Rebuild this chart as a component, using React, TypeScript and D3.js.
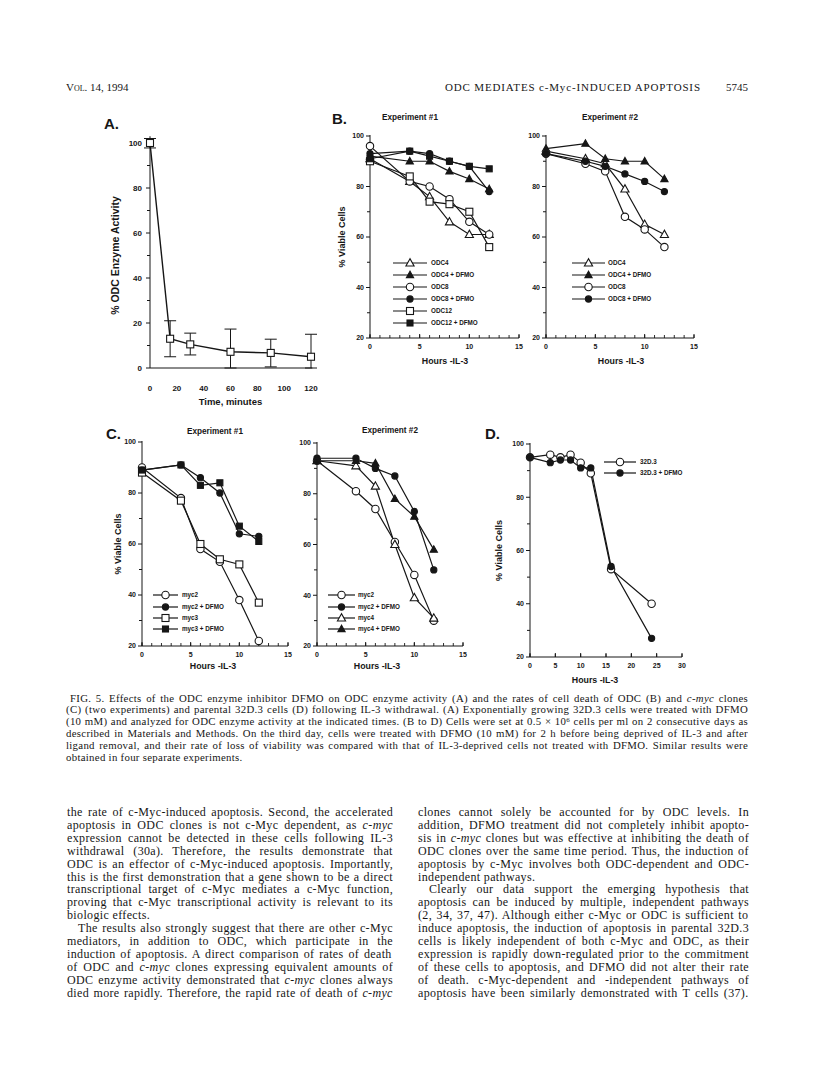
import React from 'react';
import * as d3 from 'd3';

// ---------- DATA ----------
const aTime = [0, 15, 30, 60, 90, 120];
const aActivity = [100, 13, 10.5, 7.2, 6.7, 5];
const aErrLow = [97.8, 5, 5.8, 0, 0.5, 0];
const aErrHigh = [102, 21, 15.5, 17.3, 12.8, 15];
const aXTicks = [0, 20, 40, 60, 80, 100, 120];
const aYTicks = [0, 20, 40, 60, 80, 100];

const hoursBC = [0, 4, 6, 8, 10, 12];
const b1ODC4 = [91, 82, 76, 66, 61, 61];
const b1ODC4D = [92, 90, 90, 86, 83, 79];
const b1ODC8 = [96, 82, 80, 75, 66, 61];
const b1ODC8D = [93, 94, 93, 90, 88, 78];
const b1ODC12 = [90, 84, 74, 73, 70, 56];
const b1ODC12D = [91, 94, 92, 90, 88, 87];

const b2ODC4 = [94, 91, 89, 79, 65, 61];
const b2ODC4D = [95, 97, 91, 90, 90, 83];
const b2ODC8 = [93, 89, 86, 68, 63, 56];
const b2ODC8D = [93, 90, 88, 85, 82, 78];

const c1myc2 = [90, 78, 58, 53, 38, 22];
const c1myc2D = [89, 91, 86, 80, 64, 63];
const c1myc3 = [88, 77, 60, 54, 52, 37];
const c1myc3D = [89, 91, 83, 84, 67, 61];

const c2myc2 = [93, 81, 74, 61, 48, 30];
const c2myc2D = [94, 94, 90, 87, 73, 50];
const c2myc4 = [93, 91, 83, 60, 39, 31];
const c2myc4D = [93, 93, 92, 78, 71, 58];

const hoursD = [0, 4, 6, 8, 10, 12, 16, 24];
const d32D3 = [95, 96, 95, 96, 93, 89, 53, 40];
const d32D3D = [95, 93, 94, 94, 91, 91, 54, 27];

const viabTicks = [20, 40, 60, 80, 100];
const viabMinor = [30, 50, 70, 90];
const hourTicks = [0, 5, 10, 15];
const hourTicksD = [0, 5, 10, 15, 20, 25, 30];

const captionLines = [
  'FIG. 5. Effects of the ODC enzyme inhibitor DFMO on ODC enzyme activity (A) and the rates of cell death of ODC (B) and *c-myc* clones',
  '(C) (two experiments) and parental 32D.3 cells (D) following IL-3 withdrawal. (A) Exponentially growing 32D.3 cells were treated with DFMO',
  '(10 mM) and analyzed for ODC enzyme activity at the indicated times. (B to D) Cells were set at 0.5 \u00d7 10^6 cells per ml on 2 consecutive days as',
  'described in Materials and Methods. On the third day, cells were treated with DFMO (10 mM) for 2 h before being deprived of IL-3 and after',
  'ligand removal, and their rate of loss of viability was compared with that of IL-3-deprived cells not treated with DFMO. Similar results were',
  'obtained in four separate experiments.',
];

const leftCol = [
  'the rate of c-Myc-induced apoptosis. Second, the accelerated',
  'apoptosis in ODC clones is not c-Myc dependent, as *c-myc*',
  'expression cannot be detected in these cells following IL-3',
  'withdrawal (30a). Therefore, the results demonstrate that',
  'ODC is an effector of c-Myc-induced apoptosis. Importantly,',
  'this is the first demonstration that a gene shown to be a direct',
  'transcriptional target of c-Myc mediates a c-Myc function,',
  'proving that c-Myc transcriptional activity is relevant to its',
  'biologic effects.',
  'The results also strongly suggest that there are other c-Myc',
  'mediators, in addition to ODC, which participate in the',
  'induction of apoptosis. A direct comparison of rates of death',
  'of ODC and *c-myc* clones expressing equivalent amounts of',
  'ODC enzyme activity demonstrated that *c-myc* clones always',
  'died more rapidly. Therefore, the rapid rate of death of *c-myc*',
];
const leftIndent = [9];
const leftShort = [8];

const rightCol = [
  'clones cannot solely be accounted for by ODC levels. In',
  'addition, DFMO treatment did not completely inhibit apopto-',
  'sis in *c-myc* clones but was effective at inhibiting the death of',
  'ODC clones over the same time period. Thus, the induction of',
  'apoptosis by c-Myc involves both ODC-dependent and ODC-',
  'independent pathways.',
  'Clearly our data support the emerging hypothesis that',
  'apoptosis can be induced by multiple, independent pathways',
  '(2, 34, 37, 47). Although either c-Myc or ODC is sufficient to',
  'induce apoptosis, the induction of apoptosis in parental 32D.3',
  'cells is likely independent of both c-Myc and ODC, as their',
  'expression is rapidly down-regulated prior to the commitment',
  'of these cells to apoptosis, and DFMO did not alter their rate',
  'of death. c-Myc-dependent and -independent pathways of',
  'apoptosis have been similarly demonstrated with T cells (37).',
];
const rightIndent = [6];
const rightShort = [5];

// ---------- STYLE ----------
const SANS = "'Liberation Sans', Arial, Helvetica, sans-serif";
const SERIF = "'Liberation Serif', 'Times New Roman', Times, serif";
const INK = '#161616';

let measureCtx: CanvasRenderingContext2D | null = null;
function measureText(t: string, size: number, italic: boolean): number {
  if (!measureCtx && typeof document !== 'undefined') {
    measureCtx = document.createElement('canvas').getContext('2d');
  }
  if (!measureCtx) return t.length * size * 0.45;
  measureCtx.font = `${italic ? 'italic ' : ''}${size}px 'Liberation Serif', 'Times New Roman', serif`;
  return measureCtx.measureText(t).width;
}

function splitRich(s: string) {
  return s.split(/(\*[^*]+\*|\^\d+)/).filter(p => p.length > 0);
}

type Sym = 'ot' | 'ft' | 'oc' | 'fc' | 'os' | 'fs';

function Marker({ sym, x, y, s = 1 }: { sym: Sym; x: number; y: number; s?: number }) {
  const sw = 1.1;
  if (sym === 'oc' || sym === 'fc') {
    const r = (sym === 'oc' ? 3.7 : 3.1) * s;
    return <circle cx={x} cy={y} r={r} fill={sym === 'fc' ? INK : '#fff'} stroke={INK} strokeWidth={sw} />;
  }
  if (sym === 'os' || sym === 'fs') {
    const h = (sym === 'os' ? 3.5 : 3.0) * s;
    return <rect x={x - h} y={y - h} width={2 * h} height={2 * h} fill={sym === 'fs' ? INK : '#fff'} stroke={INK} strokeWidth={sw} />;
  }
  const t = (sym === 'ot' ? 4.3 : 3.8) * s;
  const pts = `${x},${y - t} ${x - t * 0.95},${y + t * 0.7} ${x + t * 0.95},${y + t * 0.7}`;
  return <polygon points={pts} fill={sym === 'ft' ? INK : '#fff'} stroke={INK} strokeWidth={sw} />;
}

type Series = { label: string; sym: Sym; values: number[] };

type PanelProps = {
  hours: number[];
  series: Series[];
  xDomain: [number, number];
  xRange: [number, number];
  yRange: [number, number];
  xTicks: number[];
  xMinorStep: number;
  title?: string;
  titleX?: number;
  titleY?: number;
  yTitle?: boolean;
  yTitleX?: number;
  xTitleX: number;
  xTitleY: number;
  legend: { x1: number; x2: number; tx: number; ys: number[] };
  legendFont: number;
  tickFont: number;
};

function ViabilityPanel(p: PanelProps) {
  const x = d3.scaleLinear().domain(p.xDomain).range(p.xRange);
  const y = d3.scaleLinear().domain([20, 100]).range(p.yRange);
  const line = d3.line<[number, number]>().x(d => x(d[0])).y(d => y(d[1]));
  const x0 = x(p.xDomain[0]);
  const y0 = y(20);
  const minor = d3.range(p.xDomain[0], p.xDomain[1] + 0.001, p.xMinorStep);
  return (
    <g>
      {p.title && (
        <text x={p.titleX} y={p.titleY} textAnchor="middle" fontFamily={SANS} fontWeight="bold" fontSize={8.2} fill={INK}>
          {p.title}
        </text>
      )}
      <line x1={x0} x2={x0} y1={y(100) - 1} y2={y0} stroke={INK} strokeWidth={1} />
      <line x1={x0} x2={x(p.xDomain[1])} y1={y0} y2={y0} stroke={INK} strokeWidth={1} />
      {viabTicks.map(t => (
        <g key={'yt' + t}>
          <line x1={x0 - 4} x2={x0} y1={y(t)} y2={y(t)} stroke={INK} strokeWidth={1} />
          <text x={x0 - 6} y={y(t)} dy="0.35em" textAnchor="end" fontFamily={SANS} fontWeight="bold" fontSize={p.tickFont} fill={INK}>
            {t}
          </text>
        </g>
      ))}
      {viabMinor.map(t => (
        <line key={'ym' + t} x1={x0 - 3} x2={x0} y1={y(t)} y2={y(t)} stroke={INK} strokeWidth={1} />
      ))}
      {minor.map(t => (
        <line key={'xm' + t} x1={x(t)} x2={x(t)} y1={y0} y2={y0 - 3} stroke={INK} strokeWidth={0.9} />
      ))}
      {p.xTicks.map(t => (
        <g key={'xt' + t}>
          <line x1={x(t)} x2={x(t)} y1={y0} y2={y0 - 4} stroke={INK} strokeWidth={1} />
          <text x={x(t)} y={y0 + 11} textAnchor="middle" fontFamily={SANS} fontWeight="bold" fontSize={p.tickFont} fill={INK}>
            {t}
          </text>
        </g>
      ))}
      <text x={p.xTitleX} y={p.xTitleY} textAnchor="middle" fontFamily={SANS} fontWeight="bold" fontSize={8.8} fill={INK}>
        Hours -IL-3
      </text>
      {p.yTitle && (
        <text
          transform={`translate(${p.yTitleX},${(y(20) + y(100)) / 2}) rotate(-90)`}
          textAnchor="middle"
          fontFamily={SANS}
          fontWeight="bold"
          fontSize={9}
          fill={INK}
        >
          % Viable Cells
        </text>
      )}
      {p.series.map(s => (
        <path
          key={'l' + s.label}
          d={line(p.hours.map((h, i) => [h, s.values[i]] as [number, number])) || ''}
          fill="none"
          stroke={INK}
          strokeWidth={1.2}
        />
      ))}
      {p.series.map(s =>
        p.hours.map((h, i) => <Marker key={s.label + i} sym={s.sym} x={x(h)} y={y(s.values[i])} />)
      )}
      {p.series.map((s, i) => (
        <g key={'lg' + s.label}>
          <line x1={p.legend.x1} x2={p.legend.x2} y1={p.legend.ys[i]} y2={p.legend.ys[i]} stroke={INK} strokeWidth={1.2} />
          <Marker sym={s.sym} x={(p.legend.x1 + p.legend.x2) / 2} y={p.legend.ys[i]} />
          <text x={p.legend.tx} y={p.legend.ys[i]} dy="0.35em" fontFamily={SANS} fontWeight="bold" fontSize={p.legendFont} fill={INK}>
            {s.label}
          </text>
        </g>
      ))}
    </g>
  );
}

function PanelA() {
  const x = d3.scaleLinear().domain([0, 120]).range([150, 311]);
  const y = d3.scaleLinear().domain([0, 100]).range([368, 143]);
  const line = d3.line<number>().x((_, i) => x(aTime[i])).y(d => y(d));
  const minor = [10, 30, 50, 70, 90];
  return (
    <g>
      <text x={104} y={129} fontFamily={SANS} fontWeight="bold" fontSize={15} fill={INK}>A.</text>
      <line x1={x(0)} x2={x(0)} y1={y(103)} y2={y(0)} stroke={INK} strokeWidth={1} />
      <line x1={x(0)} x2={x(121)} y1={y(0)} y2={y(0)} stroke={INK} strokeWidth={1} />
      {aYTicks.map(t => (
        <g key={'ay' + t}>
          <line x1={x(0) - 4} x2={x(0)} y1={y(t)} y2={y(t)} stroke={INK} strokeWidth={1} />
          <text x={x(0) - 8} y={y(t)} dy="0.35em" textAnchor="end" fontFamily={SANS} fontWeight="bold" fontSize={8} fill={INK}>
            {t}
          </text>
        </g>
      ))}
      {minor.map(t => (
        <line key={'am' + t} x1={x(0) - 3} x2={x(0)} y1={y(t)} y2={y(t)} stroke={INK} strokeWidth={1} />
      ))}
      {aXTicks.map(t => (
        <text key={'ax' + t} x={x(t)} y={y(0) + 23} textAnchor="middle" fontFamily={SANS} fontWeight="bold" fontSize={8} fill={INK}>
          {t}
        </text>
      ))}
      <text x={(x(0) + x(120)) / 2} y={405} textAnchor="middle" fontFamily={SANS} fontWeight="bold" fontSize={9.5} fill={INK}>
        Time, minutes
      </text>
      <text
        transform={`translate(119,${(y(0) + y(100)) / 2}) rotate(-90)`}
        textAnchor="middle"
        fontFamily={SANS}
        fontWeight="bold"
        fontSize={10.5}
        fill={INK}
      >
        % ODC Enzyme Activity
      </text>
      {aTime.map((t, i) => (
        <g key={'eb' + i}>
          <line x1={x(t)} x2={x(t)} y1={y(aErrLow[i])} y2={y(aErrHigh[i])} stroke={INK} strokeWidth={1} />
          <line x1={x(t) - 6} x2={x(t) + 6} y1={y(aErrHigh[i])} y2={y(aErrHigh[i])} stroke={INK} strokeWidth={1} />
          <line x1={x(t) - 6} x2={x(t) + 6} y1={y(aErrLow[i])} y2={y(aErrLow[i])} stroke={INK} strokeWidth={1} />
        </g>
      ))}
      <path d={line(aActivity) || ''} fill="none" stroke={INK} strokeWidth={1.4} />
      {aTime.map((t, i) => (
        <Marker key={'am' + i} sym="os" x={x(t)} y={y(aActivity[i])} />
      ))}
    </g>
  );
}

function JustLine({
  s, x1, x2, y, fontSize, justify, ls,
}: { s: string; x1: number; x2: number; y: number; fontSize: number; justify: boolean; ls: number }) {
  const parts = splitRich(s);
  let natural = 0;
  let spaces = 0;
  let chars = 0;
  parts.forEach(p => {
    if (p.startsWith('*')) {
      const t = p.slice(1, -1);
      natural += measureText(t, fontSize, true);
      spaces += (t.match(/ /g) || []).length;
      chars += t.length;
    } else if (p.startsWith('^')) {
      natural += measureText(p.slice(1), fontSize * 0.65, false);
      chars += p.length - 1;
    } else {
      natural += measureText(p, fontSize, false);
      spaces += (p.match(/ /g) || []).length;
      chars += p.length;
    }
  });
  natural += chars * ls;
  const ws = justify && spaces > 0 ? (x2 - x1 - natural) / spaces : 0;
  return (
    <text
      x={x1}
      y={y}
      fontFamily={SERIF}
      fontSize={fontSize}
      fill={INK}
      style={{ wordSpacing: `${ws}px`, letterSpacing: `${ls}px`, whiteSpace: 'pre' }}
    >
      {parts.map((p, i) => {
        if (p.startsWith('*')) return <tspan key={i} fontStyle="italic">{p.slice(1, -1)}</tspan>;
        if (p.startsWith('^'))
          return (
            <tspan key={i} fontSize={fontSize * 0.65} dy={-fontSize * 0.35}>
              {p.slice(1)}
            </tspan>
          );
        const prevSup = i > 0 && parts[i - 1].startsWith('^');
        return (
          <tspan key={i} {...(prevSup ? { dy: fontSize * 0.35 } : {})}>
            {p}
          </tspan>
        );
      })}
    </text>
  );
}

function TextBlock({
  lines, x1, x2, y0, lh, fontSize, ls, indent = [], short = [], indentPx = 11, firstIndent = 0,
}: {
  lines: string[]; x1: number; x2: number; y0: number; lh: number; fontSize: number; ls: number;
  indent?: number[]; short?: number[]; indentPx?: number; firstIndent?: number;
}) {
  return (
    <g>
      {lines.map((l, i) => {
        const ind = (indent.includes(i) ? indentPx : 0) + (i === 0 ? firstIndent : 0);
        return (
          <JustLine key={i} s={l} x1={x1 + ind} x2={x2} y={y0 + i * lh} fontSize={fontSize} ls={ls} justify={!short.includes(i)} />
        );
      })}
    </g>
  );
}

export default function App() {
  const b1: Series[] = [
    { label: 'ODC4', sym: 'ot', values: b1ODC4 },
    { label: 'ODC4 + DFMO', sym: 'ft', values: b1ODC4D },
    { label: 'ODC8', sym: 'oc', values: b1ODC8 },
    { label: 'ODC8 + DFMO', sym: 'fc', values: b1ODC8D },
    { label: 'ODC12', sym: 'os', values: b1ODC12 },
    { label: 'ODC12 + DFMO', sym: 'fs', values: b1ODC12D },
  ];
  const b2: Series[] = [
    { label: 'ODC4', sym: 'ot', values: b2ODC4 },
    { label: 'ODC4 + DFMO', sym: 'ft', values: b2ODC4D },
    { label: 'ODC8', sym: 'oc', values: b2ODC8 },
    { label: 'ODC8 + DFMO', sym: 'fc', values: b2ODC8D },
  ];
  const c1: Series[] = [
    { label: 'myc2', sym: 'oc', values: c1myc2 },
    { label: 'myc2 + DFMO', sym: 'fc', values: c1myc2D },
    { label: 'myc3', sym: 'os', values: c1myc3 },
    { label: 'myc3 + DFMO', sym: 'fs', values: c1myc3D },
  ];
  const c2: Series[] = [
    { label: 'myc2', sym: 'oc', values: c2myc2 },
    { label: 'myc2 + DFMO', sym: 'fc', values: c2myc2D },
    { label: 'myc4', sym: 'ot', values: c2myc4 },
    { label: 'myc4 + DFMO', sym: 'ft', values: c2myc4D },
  ];
  const dS: Series[] = [
    { label: '32D.3', sym: 'oc', values: d32D3 },
    { label: '32D.3 + DFMO', sym: 'fc', values: d32D3D },
  ];
  return (
    <svg width={816} height={1080} style={{ position: 'absolute', left: 0, top: 0, background: '#fff' }}>
      <rect x={0} y={0} width={816} height={1080} fill="#fff" />
      <text x={66} y={91} fontFamily={SERIF} fontSize={11} fill={INK} style={{ fontVariant: 'small-caps' }}>
        Vol. 14, 1994
      </text>
      <text x={445} y={91} fontFamily={SERIF} fontSize={11} fill={INK} textLength={255} lengthAdjust="spacing">
        ODC MEDIATES c-Myc-INDUCED APOPTOSIS
      </text>
      <text x={748} y={91} textAnchor="end" fontFamily={SERIF} fontSize={11} fill={INK}>5745</text>

      <PanelA />

      <text x={332} y={124} fontFamily={SANS} fontWeight="bold" fontSize={15} fill={INK}>B.</text>
      <ViabilityPanel
        hours={hoursBC} series={b1} xDomain={[0, 15]} xRange={[370, 519]} yRange={[338, 136]}
        xTicks={hourTicks} xMinorStep={1} title="Experiment #1" titleX={410} titleY={120}
        yTitle yTitleX={345} xTitleX={445} xTitleY={364}
        legend={{ x1: 393, x2: 427, tx: 431, ys: [263, 275, 287, 299, 311, 323] }} legendFont={6.3} tickFont={7}
      />
      <ViabilityPanel
        hours={hoursBC} series={b2} xDomain={[0, 15]} xRange={[546, 694]} yRange={[338, 136]}
        xTicks={hourTicks} xMinorStep={1} title="Experiment #2" titleX={610} titleY={120}
        xTitleX={621} xTitleY={364}
        legend={{ x1: 572, x2: 605, tx: 608, ys: [263, 275, 287, 299] }} legendFont={6.3} tickFont={7}
      />

      <text x={106} y={439} fontFamily={SANS} fontWeight="bold" fontSize={15} fill={INK}>C.</text>
      <ViabilityPanel
        hours={hoursBC} series={c1} xDomain={[0, 15]} xRange={[142, 288]} yRange={[646, 442]}
        xTicks={hourTicks} xMinorStep={1} title="Experiment #1" titleX={215} titleY={434}
        yTitle yTitleX={121} xTitleX={213} xTitleY={669}
        legend={{ x1: 153, x2: 178, tx: 182, ys: [595, 607, 618, 629] }} legendFont={6.3} tickFont={7}
      />
      <ViabilityPanel
        hours={hoursBC} series={c2} xDomain={[0, 15]} xRange={[317, 463]} yRange={[646, 443]}
        xTicks={hourTicks} xMinorStep={1} title="Experiment #2" titleX={390} titleY={433}
        xTitleX={377} xTitleY={669}
        legend={{ x1: 328, x2: 355, tx: 358, ys: [595, 607, 618, 629] }} legendFont={6.3} tickFont={7}
      />

      <text x={485} y={439} fontFamily={SANS} fontWeight="bold" fontSize={15} fill={INK}>D.</text>
      <ViabilityPanel
        hours={hoursD} series={dS} xDomain={[0, 30]} xRange={[530, 682]} yRange={[657, 444]}
        xTicks={hourTicksD} xMinorStep={5} yTitle yTitleX={502} xTitleX={595} xTitleY={683}
        legend={{ x1: 604, x2: 636, tx: 640, ys: [462, 473] }} legendFont={6.3} tickFont={7}
      />

      <TextBlock lines={captionLines} x1={66} x2={748} y0={701.5} lh={11.9} fontSize={10.8} ls={0.3} short={[5]} firstIndent={4} />

      <TextBlock lines={leftCol} x1={67} x2={393} y0={816} lh={12.9} fontSize={12} ls={0.35} indent={leftIndent} short={leftShort} />
      <TextBlock lines={rightCol} x1={418} x2={749} y0={816} lh={12.9} fontSize={12} ls={0.35} indent={rightIndent} short={rightShort} />
    </svg>
  );
}
